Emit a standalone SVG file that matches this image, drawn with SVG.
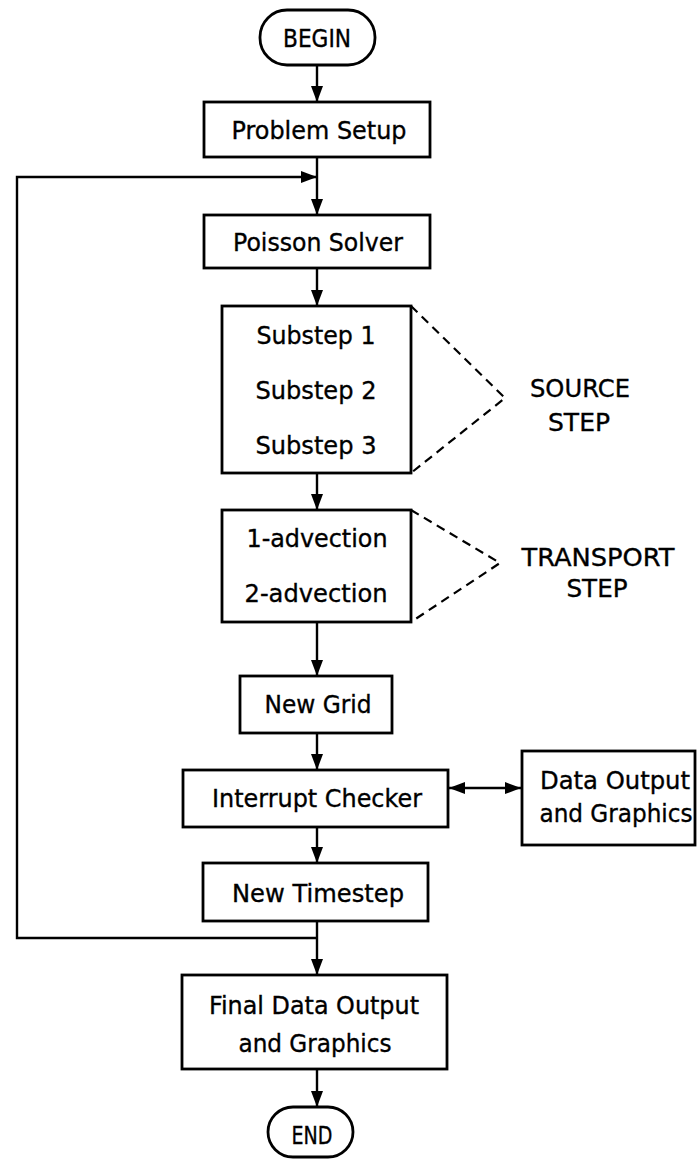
<svg xmlns="http://www.w3.org/2000/svg" width="698" height="1160" viewBox="0 0 698 1160">
<style>
.box{fill:#fff;stroke:#000;stroke-width:2.8}
.ln{fill:none;stroke:#000;stroke-width:2.4}
.dash{fill:none;stroke:#000;stroke-width:2.2;stroke-dasharray:9 6}
text{font-family:"DejaVu Sans","Liberation Sans",sans-serif;font-size:24px;fill:#000;stroke:#000;stroke-width:0.35;text-anchor:middle}
</style>
<defs>
<marker id="ah" viewBox="0 0 16 12" refX="16" refY="6" markerWidth="16" markerHeight="12" markerUnits="userSpaceOnUse" orient="auto-start-reverse">
<path d="M0,0 L16,6 L0,12 Z" fill="#000"/>
</marker>
</defs>
<rect width="698" height="1160" fill="#fff"/>
<g id="connectors">
<line class="ln" x1="317" y1="65" x2="317" y2="102" marker-end="url(#ah)"/>
<line class="ln" x1="317" y1="157" x2="317" y2="215" marker-end="url(#ah)"/>
<polyline class="ln" points="317,938 17,938 17,177 317,177" marker-end="url(#ah)"/>
<line class="ln" x1="317" y1="268" x2="317" y2="306" marker-end="url(#ah)"/>
<line class="ln" x1="317" y1="473" x2="317" y2="510" marker-end="url(#ah)"/>
<line class="ln" x1="317" y1="622" x2="317" y2="676" marker-end="url(#ah)"/>
<line class="ln" x1="317" y1="733" x2="317" y2="770" marker-end="url(#ah)"/>
<line class="ln" x1="449" y1="788" x2="521" y2="788" marker-start="url(#ah)" marker-end="url(#ah)"/>
<line class="ln" x1="317" y1="827" x2="317" y2="863" marker-end="url(#ah)"/>
<line class="ln" x1="317" y1="921" x2="317" y2="975" marker-end="url(#ah)"/>
<line class="ln" x1="317" y1="1069" x2="317" y2="1107" marker-end="url(#ah)"/>
<polyline class="dash" points="411,306 505,398 411,473"/>
<polyline class="dash" points="411,510 500,563 411,622"/>
</g>
<g id="begin"><rect class="box" x="260" y="10" width="115" height="55" rx="27"/><text x="317" y="47" textLength="68" lengthAdjust="spacingAndGlyphs">BEGIN</text></g>
<g id="problem-setup"><rect class="box" x="204" y="102" width="226" height="55"/><text x="319" y="139" textLength="175" lengthAdjust="spacingAndGlyphs">Problem Setup</text></g>
<g id="poisson-solver"><rect class="box" x="204" y="215" width="226" height="53"/><text x="318" y="251" textLength="170" lengthAdjust="spacingAndGlyphs">Poisson Solver</text></g>
<g id="source-substeps"><rect class="box" x="222" y="306" width="189" height="167"/>
<text x="316" y="344" textLength="119" lengthAdjust="spacingAndGlyphs">Substep 1</text>
<text x="316" y="399" textLength="121" lengthAdjust="spacingAndGlyphs">Substep 2</text>
<text x="316" y="454" textLength="121" lengthAdjust="spacingAndGlyphs">Substep 3</text></g>
<g id="source-step-label"><text x="580" y="397" textLength="100" lengthAdjust="spacingAndGlyphs">SOURCE</text><text x="579" y="431" textLength="62" lengthAdjust="spacingAndGlyphs">STEP</text></g>
<g id="transport-substeps"><rect class="box" x="222" y="510" width="189" height="112"/>
<text x="317" y="547" textLength="141" lengthAdjust="spacingAndGlyphs">1-advection</text>
<text x="316" y="602" textLength="143" lengthAdjust="spacingAndGlyphs">2-advection</text></g>
<g id="transport-step-label"><text x="598" y="566" textLength="153" lengthAdjust="spacingAndGlyphs">TRANSPORT</text><text x="597" y="597" textLength="61" lengthAdjust="spacingAndGlyphs">STEP</text></g>
<g id="new-grid"><rect class="box" x="240" y="676" width="152" height="57"/><text x="318" y="713" textLength="107" lengthAdjust="spacingAndGlyphs">New Grid</text></g>
<g id="interrupt-checker"><rect class="box" x="183" y="770" width="265" height="57"/><text x="317" y="807" textLength="210" lengthAdjust="spacingAndGlyphs">Interrupt Checker</text></g>
<g id="data-output"><rect class="box" x="522" y="751" width="173" height="94"/>
<text x="615" y="789" textLength="150" lengthAdjust="spacingAndGlyphs">Data Output</text>
<text x="616" y="822" textLength="153" lengthAdjust="spacingAndGlyphs">and Graphics</text></g>
<g id="new-timestep"><rect class="box" x="203" y="863" width="225" height="58"/><text x="318" y="902" textLength="172" lengthAdjust="spacingAndGlyphs">New Timestep</text></g>
<g id="final-output"><rect class="box" x="182" y="975" width="265" height="94"/>
<text x="314" y="1014" textLength="210" lengthAdjust="spacingAndGlyphs">Final Data Output</text>
<text x="315" y="1052" textLength="153" lengthAdjust="spacingAndGlyphs">and Graphics</text></g>
<g id="end"><rect class="box" x="268" y="1107" width="85" height="50" rx="25"/><text x="312" y="1144" textLength="41" lengthAdjust="spacingAndGlyphs">END</text></g>
</svg>
